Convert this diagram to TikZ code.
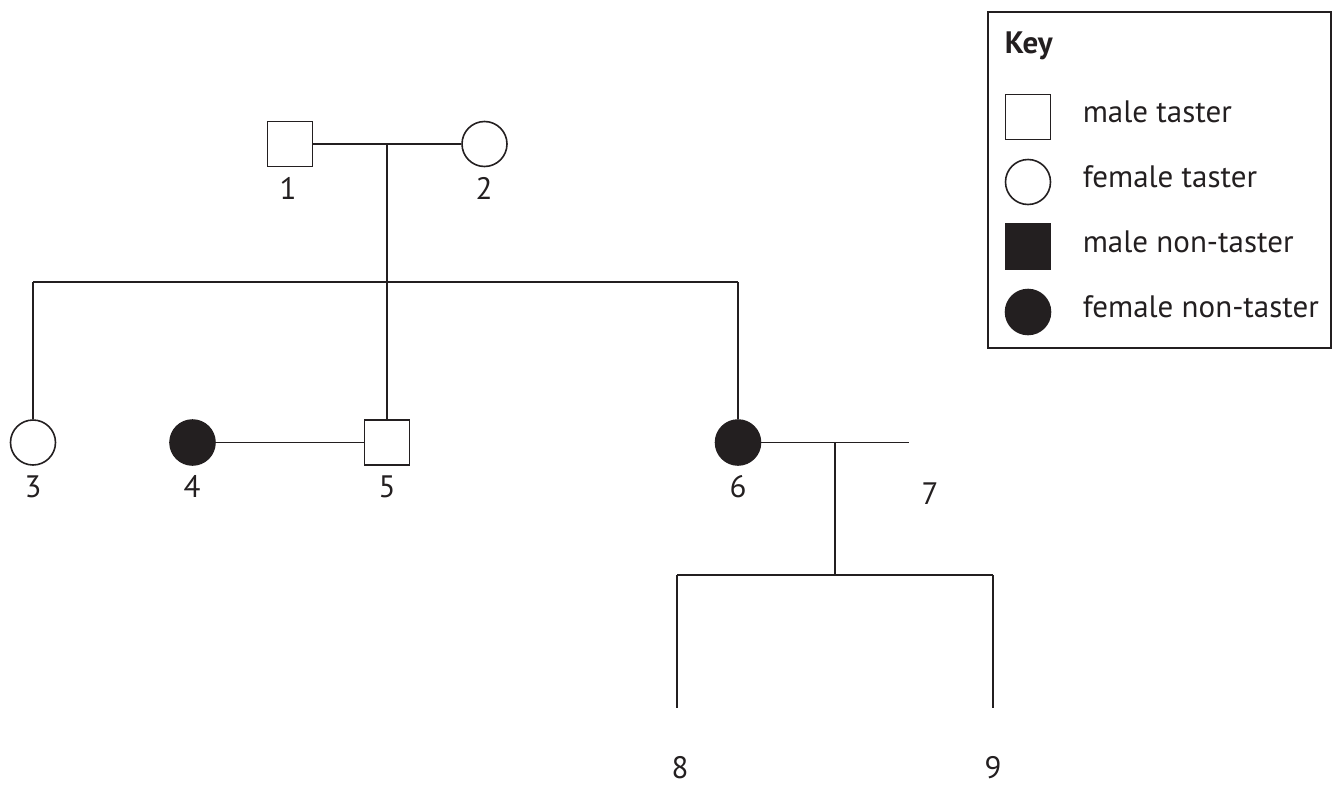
\documentclass[tikz,border=0pt]{standalone}
\usepackage{fontspec}
\setmainfont{PT Sans}
\definecolor{ink}{HTML}{231F20}
\begin{document}
\begin{tikzpicture}[x=1pt,y=-1pt,line width=1.6pt,draw=ink,
  male/.style={draw=ink,rectangle,minimum size=45pt,inner sep=0pt,fill=white},
  female/.style={draw=ink,circle,minimum size=45pt,inner sep=0pt,fill=white},
  aff/.style={fill=ink},
  lab/.style={font=\fontsize{31}{36}\selectfont,text=ink,anchor=base,inner sep=0pt,text depth=0pt},
  keytxt/.style={font=\fontsize{31}{36}\selectfont,text=ink,anchor=mid west,inner sep=0pt}]
\useasboundingbox (0,0) rectangle (1332,787);
% individuals
\node[male] (p1) at (290,144) {};
\node[female] (p2) at (484.5,144) {};
\node[female] (p3) at (33,442.5) {};
\node[female,aff] (p4) at (192.5,442.5) {};
\node[male] (p5) at (387,442.5) {};
\node[female,aff] (p6) at (738,442.5) {};
% junctions
\coordinate (m1) at (387,144);
\coordinate (s1) at (387,282);
\coordinate (s1l) at (33,282);
\coordinate (s1r) at (738,282);
\coordinate (p7end) at (909,442.5);
\coordinate (m2) at (835,442.5);
\coordinate (s2) at (835,575);
\coordinate (s2l) at (677,575);
\coordinate (s2r) at (993,575);
\coordinate (e8) at (677,708);
\coordinate (e9) at (993,708);
% connectors
\draw (p1) -- (p2);
\draw (m1) -- (p5);
\draw (s1l) -- (s1r);
\draw (s1l) -- (p3);
\draw (s1r) -- (p6);
\draw (p4) -- (p5);
\draw (p6) -- (p7end);
\draw (m2) -- (s2);
\draw (s2l) -- (s2r);
\draw (s2l) -- (e8);
\draw (s2r) -- (e9);
% labels
\node[lab] (l1) at (288,199) {1};
\node[lab] (l2) at (484,199) {2};
\node[lab] (l3) at (33,497) {3};
\node[lab] (l4) at (192,497) {4};
\node[lab] (l5) at (387,497) {5};
\node[lab] (l6) at (738,497) {6};
\node[lab] (l7) at (930,504) {7};
\node[lab] (l8) at (680,778) {8};
\node[lab] (l9) at (993,778) {9};
% key
\node[draw=ink,line width=1.4pt,minimum width=343pt,minimum height=336pt,inner sep=0pt] (keybox) at (1159.5,180) {};
\node[font=\fontsize{31}{36}\selectfont\bfseries,text=ink,anchor=base west,inner sep=0pt] (keytitle) at (1004,53) {Key};
\node[male] (k1) at (1028,117) {};
\node[female] (k2) at (1028,182) {};
\node[male,aff] (k3) at (1028,246.5) {};
\node[female,aff] (k4) at (1028,312) {};
\node[keytxt] (kt1) at (1082,120) {male taster};
\node[keytxt] (kt2) at (1082,185) {female taster};
\node[keytxt] (kt3) at (1082,250) {male non-taster};
\node[keytxt] (kt4) at (1082,315) {female non-taster};
\end{tikzpicture}
\end{document}
